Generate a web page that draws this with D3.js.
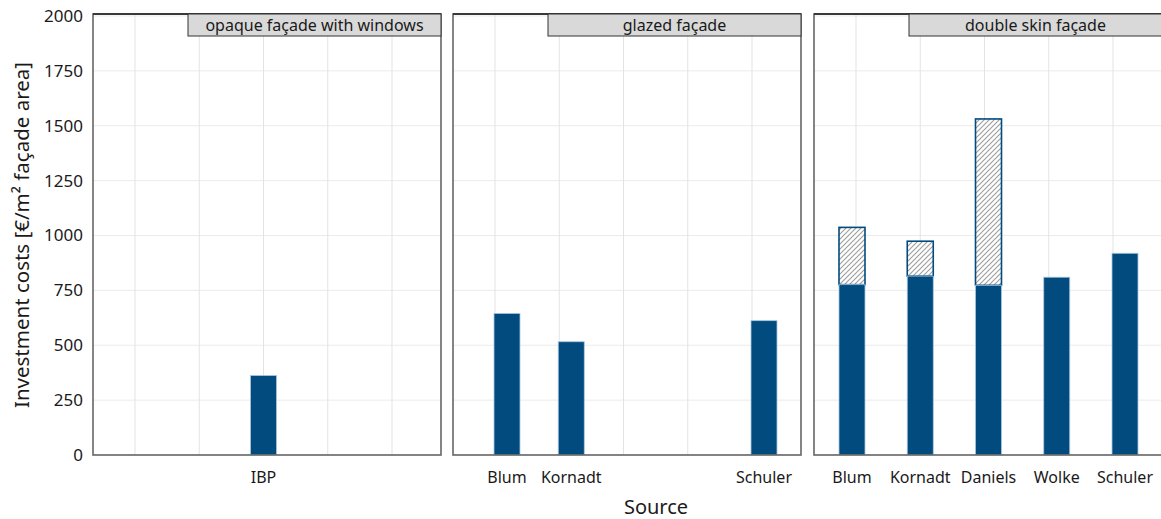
<!DOCTYPE html>
<html>
<head>
<meta charset="utf-8">
<script src="https://cdn.jsdelivr.net/npm/d3@7"></script>
<style>
  html, body { margin: 0; padding: 0; background: #fff; }
  svg { display: block; font-family: "Noto Sans", "Open Sans", sans-serif; }
</style>
</head>
<body>
<svg id="chart" width="1161" height="519"></svg>
<script>
// Facet titles
const facets = ["opaque façade with windows", "glazed façade", "double skin façade"];

// Source order shared by the façade facets
const sourceOrder = ["Blum", "Kornadt", "Daniels", "Wolke", "Schuler"];

// Investment costs per source [€/m² façade area]
const opaqueSources = ["IBP"];
const opaqueCost = [362];

const glazedSources = ["Blum", "Kornadt", "Schuler"];
const glazedCost = [645, 516, 612];

const doubleSources = ["Blum", "Kornadt", "Daniels", "Wolke", "Schuler"];
const doubleCost = [776, 815, 773, 810, 919];
// Upper end of the cost range (hatched part), where a range was given
const doubleCostMax = [1037, 974, 1531, null, null];

const yTicks = [0, 250, 500, 750, 1000, 1250, 1500, 1750, 2000];

const svg = d3.select("#chart");

// Layout
const plotTop = 14, plotBottom = 455;
const panelLeft = [93, 453, 814];
const panelWidth = 348;
const barWidth = 26;
const stripWidth = 253, stripHeight = 22;
const blue = "#024b7f";
const textColor = "#1a1a1a";

const y = d3.scaleLinear().domain([0, 2000]).range([455, 16]);

// Hatch pattern for the cost range
const defs = svg.append("defs");
const pat = defs.append("pattern")
  .attr("id", "hatch")
  .attr("patternUnits", "userSpaceOnUse")
  .attr("width", 5).attr("height", 5);
pat.append("rect").attr("width", 5).attr("height", 5).attr("fill", "#fff");
pat.append("path")
  .attr("d", "M0,5 L5,0 M-1,1 L1,-1 M4,6 L6,4")
  .attr("stroke", "#a0a0a0").attr("stroke-width", 1.2);

const panels = [
  { title: facets[0], domain: opaqueSources, range: [42, 299],
    rows: opaqueSources.map((s, i) => ({ source: s, cost: opaqueCost[i], max: null })) },
  { title: facets[1], domain: sourceOrder, range: [54, 311],
    rows: glazedSources.map((s, i) => ({ source: s, cost: glazedCost[i], max: null })) },
  { title: facets[2], domain: sourceOrder, range: [38, 311],
    rows: doubleSources.map((s, i) => ({ source: s, cost: doubleCost[i], max: doubleCostMax[i] })) }
];

// Shared grid slots along x
const gridSlots = d3.range(5);

panels.forEach((p, pi) => {
  const x0 = panelLeft[pi];
  const g = svg.append("g").attr("transform", `translate(${x0},0)`);

  const gridX = d3.scalePoint().domain(gridSlots).range([42, 299]);
  const x = d3.scalePoint().domain(p.domain).range(p.range);

  // clip panel content
  const clipId = "clip" + pi;
  defs.append("clipPath").attr("id", clipId)
    .append("rect").attr("x", 0).attr("y", plotTop).attr("width", panelWidth).attr("height", plotBottom - plotTop);
  const inner = g.append("g").attr("clip-path", `url(#${clipId})`);

  // grid
  inner.selectAll(".gy").data(yTicks).join("line")
    .attr("x1", 0).attr("x2", panelWidth)
    .attr("y1", d => y(d)).attr("y2", d => y(d))
    .attr("stroke", "#ebebeb").attr("stroke-width", 1);
  inner.selectAll(".gx").data(gridSlots).join("line")
    .attr("x1", d => gridX(d)).attr("x2", d => gridX(d))
    .attr("y1", plotTop).attr("y2", plotBottom)
    .attr("stroke", "#e3e3e3").attr("stroke-width", 1);

  // hatched range above base cost
  inner.selectAll(".range").data(p.rows.filter(d => d.max != null)).join("rect")
    .attr("x", d => x(d.source) - barWidth / 2)
    .attr("width", barWidth)
    .attr("y", d => y(d.max))
    .attr("height", d => y(d.cost) - y(d.max))
    .attr("fill", "url(#hatch)")
    .attr("stroke", blue).attr("stroke-width", 1.6);

  // base cost bars
  inner.selectAll(".bar").data(p.rows).join("rect")
    .attr("x", d => x(d.source) - barWidth / 2)
    .attr("width", barWidth)
    .attr("y", d => y(d.cost))
    .attr("height", d => y(0) - y(d.cost))
    .attr("fill", blue)
    .attr("stroke", "#a9c6df").attr("stroke-width", 0.8);

  // panel frame
  g.append("rect").attr("x", 0).attr("y", plotTop)
    .attr("width", panelWidth).attr("height", plotBottom - plotTop)
    .attr("fill", "none").attr("stroke", "#666").attr("stroke-width", 1.6);
  g.append("line").attr("x1", 0).attr("x2", panelWidth)
    .attr("y1", plotTop).attr("y2", plotTop)
    .attr("stroke", "#222").attr("stroke-width", 1.3);

  // strip
  const strip = g.append("g").attr("transform", `translate(${panelWidth - stripWidth},${plotTop})`);
  strip.append("rect").attr("width", stripWidth).attr("height", stripHeight)
    .attr("fill", "#d9d9d9").attr("stroke", "#333").attr("stroke-width", 1);
  strip.append("text").attr("x", stripWidth / 2).attr("y", stripHeight / 2)
    .attr("dy", "0.36em").attr("text-anchor", "middle")
    .attr("font-size", 16).attr("fill", textColor).text(p.title);

  // x tick labels
  g.selectAll(".xl").data(p.rows).join("text")
    .attr("x", d => x(d.source)).attr("y", 483)
    .attr("text-anchor", "middle").attr("font-size", 16).attr("fill", textColor)
    .text(d => d.source);

  // y tick labels on first panel only
  if (pi === 0) {
    const yAxis = d3.axisLeft(y).tickValues(yTicks).tickSize(0).tickPadding(10).tickFormat(d3.format("d"));
    const ya = g.append("g").call(yAxis);
    ya.select(".domain").remove();
    ya.selectAll("text").attr("font-size", 17).attr("fill", textColor)
      .attr("font-family", "'Noto Sans', 'Open Sans', sans-serif");
  }
});

// axis titles
svg.append("text")
  .attr("transform", "translate(29,235) rotate(-90)")
  .attr("text-anchor", "middle").attr("font-size", 20.5).attr("fill", textColor)
  .text("Investment costs [€/m² façade area]");
svg.append("text")
  .attr("x", 656).attr("y", 514)
  .attr("text-anchor", "middle").attr("font-size", 20).attr("fill", textColor)
  .text("Source");
</script>
</body>
</html>
